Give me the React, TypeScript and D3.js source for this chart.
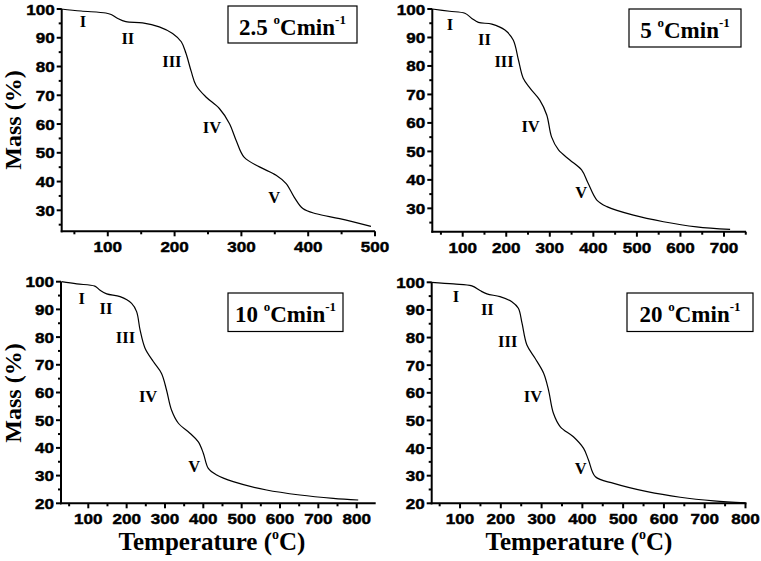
import React from "react";
import * as d3 from "d3";

// ---------- DATA ----------
const rates = ["2.5", "5", "10", "20"];
const stageLabels = ["I", "II", "III", "IV", "V"];

const temp25 = [30, 60, 97, 105, 115, 127, 152, 177, 197, 210, 217, 225, 232, 247, 267, 282, 292, 304, 327, 352, 367, 379, 392, 412, 447, 494];
const mass25 = [100, 99.3, 98.6, 98.1, 96.7, 95.6, 95.2, 93.8, 91.5, 88.6, 84.6, 78.2, 73.5, 69.4, 65.4, 60.2, 54.4, 48.5, 45.1, 42.2, 39.3, 34.6, 30.6, 28.8, 27.1, 24.4];

const temp5 = [30, 70, 105, 121, 136, 167, 197, 216, 228, 239, 255, 277, 293, 304, 320, 346, 373, 388, 408, 431, 492, 561, 637, 714];
const mass5 = [100, 99.2, 98.5, 96.7, 95.3, 94.7, 92.6, 89.1, 82.1, 75.7, 72.1, 68.0, 62.8, 55.1, 50.5, 47.0, 43.5, 38.8, 32.9, 30.6, 27.6, 25.3, 23.5, 22.6];

const temp10 = [30, 70, 117, 130, 148, 183, 213, 226, 235, 248, 270, 291, 304, 317, 335, 365, 387, 400, 413, 435, 478, 565, 652, 739, 804];
const mass10 = [100, 99.2, 98.4, 97, 95.6, 94.6, 92.2, 89.2, 82.6, 76.0, 71.1, 66.9, 60.9, 53.7, 48.9, 45.3, 42.2, 38.1, 32.6, 30.2, 27.8, 24.8, 23.0, 21.8, 21.2];

const temp20 = [30, 84, 129, 149, 166, 198, 227, 243, 252, 264, 284, 305, 317, 329, 346, 378, 403, 415, 432, 477, 559, 640, 722, 800];
const mass20 = [100, 99.4, 98.7, 97, 95.8, 94.8, 93, 90.6, 85.2, 77.3, 72.5, 67.1, 61.0, 52.6, 47.7, 44.1, 39.9, 35.7, 29.6, 27.2, 24.2, 22.2, 20.9, 20.2];

// stage label positions (temperature, mass) per panel
const labelT25 = [63, 130, 196, 256, 349];
const labelM25 = [95.5, 89.9, 81.9, 58.9, 34.5];
const labelT5 = [71, 150, 195, 256, 372];
const labelM5 = [94.7, 89.4, 81.5, 58.9, 35.5];
const labelT10 = [83, 146, 197, 256, 376];
const labelM10 = [94.0, 90.4, 79.8, 58.5, 33.2];
const labelT20 = [90, 167, 217, 279, 396];
const labelM20 = [94.8, 90.2, 78.5, 58.6, 32.7];

const xTicks500 = [100, 200, 300, 400, 500];
const xTicks700 = [100, 200, 300, 400, 500, 600, 700];
const xTicks800 = [100, 200, 300, 400, 500, 600, 700, 800];
const yTicksTop = [30, 40, 50, 60, 70, 80, 90, 100];
const yTicksBottom = [20, 30, 40, 50, 60, 70, 80, 90, 100];

const yTitle = "Mass (%)";
const xTitle = "Temperature (";

// ---------- LAYOUT ----------
const serif = "'Liberation Serif', 'Times New Roman', serif";
const sans = "'Liberation Sans', Arial, sans-serif";

type PanelCfg = {
  temp: number[];
  mass: number[];
  lt: number[];
  lm: number[];
  rate: string;
  xDomain: [number, number];
  yDomain: [number, number];
  left: number;
  right: number;
  top: number;
  bottom: number;
  xTicks: number[];
  yTicks: number[];
  box: [number, number, number, number];
};

const panels: PanelCfg[] = [
  { temp: temp25, mass: mass25, lt: labelT25, lm: labelM25, rate: rates[0], xDomain: [31, 500], yDomain: [22.7, 100], left: 61.7, right: 375, top: 9, bottom: 231.3, xTicks: xTicks500, yTicks: yTicksTop, box: [228, 6, 129, 37] },
  { temp: temp5, mass: mass5, lt: labelT5, lm: labelM5, rate: rates[1], xDomain: [30.2, 750.5], yDomain: [21.8, 100], left: 432.3, right: 746, top: 9, bottom: 231.7, xTicks: xTicks700, yTicks: yTicksTop, box: [629, 9, 112, 38] },
  { temp: temp10, mass: mass10, lt: labelT10, lm: labelM10, rate: rates[2], xDomain: [28.8, 849.6], yDomain: [20, 100], left: 61, right: 375.7, top: 281.7, bottom: 503.3, xTicks: xTicks800, yTicks: yTicksBottom, box: [228, 293, 115, 38.5] },
  { temp: temp20, mass: mass20, lt: labelT20, lm: labelM20, rate: rates[3], xDomain: [30.5, 802.5], yDomain: [20, 100], left: 431.7, right: 746.5, top: 282.3, bottom: 503.3, xTicks: xTicks800, yTicks: yTicksBottom, box: [627, 293, 126, 38.5] },
];

function Panel({ cfg }: { cfg: PanelCfg }) {
  const x = d3.scaleLinear().domain(cfg.xDomain).range([cfg.left, cfg.right]);
  const y = d3.scaleLinear().domain(cfg.yDomain).range([cfg.bottom, cfg.top]);
  const pts = cfg.temp.map((t, i) => [t, cfg.mass[i]] as [number, number]);
  const line = d3
    .line<[number, number]>()
    .x((d) => x(d[0]))
    .y((d) => y(d[1]))
    .curve(d3.curveCatmullRom.alpha(0.5));

  const xMinor: number[] = [];
  for (let v = 50; v <= cfg.xDomain[1]; v += 100) if (v >= cfg.xDomain[0]) xMinor.push(v);
  const yMinor: number[] = [];
  for (let v = 25; v < 100; v += 10) if (v >= cfg.yDomain[0]) yMinor.push(v);

  const [bx, by, bw, bh] = cfg.box;

  return (
    <g>
      <path d={line(pts) || ""} fill="none" stroke="#000" strokeWidth={1.2} />
      {/* axes */}
      <line x1={cfg.left} x2={cfg.left} y1={y(100)} y2={cfg.bottom + 1} stroke="#000" strokeWidth={2} />
      <line x1={cfg.left - 1} x2={cfg.right} y1={cfg.bottom} y2={cfg.bottom} stroke="#000" strokeWidth={2} />
      {cfg.xTicks.map((t) => (
        <g key={"xt" + t}>
          <line x1={x(t)} x2={x(t)} y1={cfg.bottom} y2={cfg.bottom + 5} stroke="#000" strokeWidth={2} />
          <text
            transform={`translate(${x(t)},${cfg.bottom + 21}) scale(1.1,1)`}
            textAnchor="middle"
            fontFamily={sans}
            fontWeight="bold"
            fontSize={15.5}
            stroke="#000"
            strokeWidth={0.45}
          >
            {t}
          </text>
        </g>
      ))}
      {xMinor.map((t) => (
        <line key={"xm" + t} x1={x(t)} x2={x(t)} y1={cfg.bottom} y2={cfg.bottom + 3} stroke="#000" strokeWidth={2} />
      ))}
      {cfg.yTicks.map((t) => (
        <g key={"yt" + t}>
          <line x1={cfg.left - 5} x2={cfg.left} y1={y(t)} y2={y(t)} stroke="#000" strokeWidth={2} />
          <text
            transform={`translate(${cfg.left - 7},${y(t) + 5.5}) scale(1.1,1)`}
            textAnchor="end"
            fontFamily={sans}
            fontWeight="bold"
            fontSize={15.5}
            stroke="#000"
            strokeWidth={0.45}
          >
            {t}
          </text>
        </g>
      ))}
      {yMinor.map((t) => (
        <line key={"ym" + t} x1={cfg.left - 3} x2={cfg.left} y1={y(t)} y2={y(t)} stroke="#000" strokeWidth={2} />
      ))}
      {stageLabels.map((s, i) => (
        <text
          key={s}
          x={x(cfg.lt[i])}
          y={y(cfg.lm[i]) + 5.5}
          textAnchor="middle"
          fontFamily={serif}
          fontWeight="bold"
          fontSize={16.5}
        >
          {s}
        </text>
      ))}
      <rect x={bx} y={by} width={bw} height={bh} fill="#fff" stroke="#000" strokeWidth={1.2} />
      <text
        x={bx + bw / 2}
        y={by + 29}
        textAnchor="middle"
        fontFamily={serif}
        fontWeight="bold"
        fontSize={23}
      >
        {cfg.rate + " "}
        <tspan fontSize={13} dy={-11}>o</tspan>
        <tspan dy={11}>Cmin</tspan>
        <tspan fontSize={13} dy={-11}>-1</tspan>
      </text>
    </g>
  );
}

export default function App() {
  return (
    <svg
      width={761}
      height={561}
      style={{ position: "absolute", left: 0, top: 0, background: "#fff" }}
    >
      <rect x={0} y={0} width={761} height={561} fill="#fff" />
      {panels.map((p, i) => (
        <Panel key={i} cfg={p} />
      ))}
      {[120, 393].map((cy) => (
        <text
          key={"yt" + cy}
          transform={`translate(21,${cy}) rotate(-90)`}
          textAnchor="middle"
          fontFamily={serif}
          fontWeight="bold"
          fontSize={24}
        >
          {yTitle}
        </text>
      ))}
      {[212, 579].map((cx) => (
        <text
          key={"xt" + cx}
          x={cx}
          y={550}
          textAnchor="middle"
          fontFamily={serif}
          fontWeight="bold"
          fontSize={25}
        >
          {xTitle}
          <tspan fontSize={14} dy={-11}>o</tspan>
          <tspan dy={11}>C)</tspan>
        </text>
      ))}
    </svg>
  );
}
